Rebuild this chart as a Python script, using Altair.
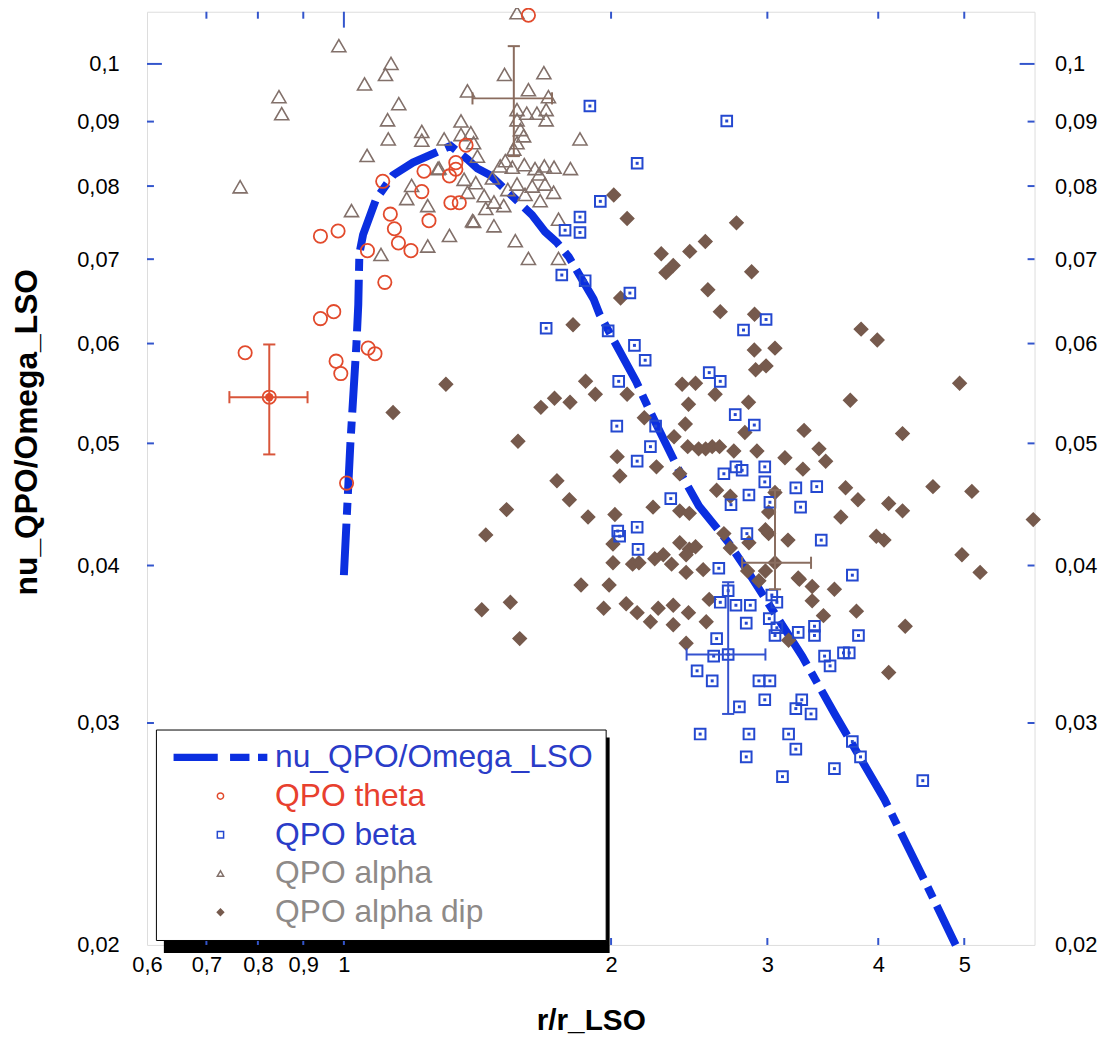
import altair as alt
import pandas as pd

FONT = "Liberation Sans"
FRAME = "#3355cc"
LINE_BLUE = "#0b2fe0"
SQ_BLUE = "#2448d0"
RED = "#e24a2c"
TRI_GRAY = "#82706a"
DIP_BROWN = "#765a4d"

# ---------------- data ----------------
series_names = ["nu_QPO/Omega_LSO", "QPO theta", "QPO beta", "QPO alpha", "QPO alpha dip"]

curve_pts = [
    (1.000, 0.0393), (1.017, 0.0500), (1.033, 0.0599), (1.038, 0.0644), (1.041, 0.0707),
    (1.051, 0.0732), (1.087, 0.0781), (1.136, 0.0816), (1.196, 0.0835), (1.319, 0.0861),
    (1.378, 0.0840), (1.414, 0.0826), (1.462, 0.0816), (1.629, 0.0759), (1.685, 0.0736),
    (1.737, 0.0722), (1.792, 0.0703), (1.911, 0.0651), (1.941, 0.0633), (2.134, 0.0560),
    (2.180, 0.0542), (2.248, 0.0518), (2.385, 0.0476), (2.512, 0.0446), (2.713, 0.0417),
    (2.856, 0.0395), (3.283, 0.0339), (3.573, 0.0305), (4.064, 0.0261), (4.510, 0.0225),
    (4.890, 0.0200),
]

theta_pts = [
    (1.106, 0.0807), (0.941, 0.0730), (0.985, 0.0737), (1.128, 0.0760), (1.140, 0.0740),
    (1.152, 0.0721), (1.190, 0.0711), (1.063, 0.0711), (1.112, 0.0671), (1.247, 0.0751),
    (1.224, 0.0792), (1.231, 0.0822), (1.614, 0.1093), (1.373, 0.0862), (1.337, 0.0835),
    (1.337, 0.0825), (1.315, 0.0815), (1.320, 0.0776), (1.349, 0.0776), (0.941, 0.0628),
    (0.974, 0.0636), (1.065, 0.0595), (1.084, 0.0589), (0.980, 0.0581), (0.992, 0.0568),
    (0.774, 0.0590), (1.007, 0.0465), (0.824, 0.0544),
]

alpha_pts = [
    (0.987, 0.1034), (1.130, 0.1001), (1.114, 0.0981), (1.055, 0.0964), (0.845, 0.0942),
    (0.851, 0.0913), (1.153, 0.0930), (1.120, 0.0903), (1.122, 0.0872), (1.224, 0.0884),
    (1.224, 0.0870), (1.062, 0.0846), (0.764, 0.0799), (1.020, 0.0765), (1.192, 0.0801),
    (1.177, 0.0782), (1.243, 0.0772), (1.243, 0.0717), (1.101, 0.0706), (1.280, 0.0827),
    (1.567, 0.1098), (1.517, 0.0981), (1.680, 0.0984), (1.378, 0.0952), (1.614, 0.0954),
    (1.355, 0.0901), (1.845, 0.0872), (1.297, 0.0872), (1.400, 0.0866), (1.414, 0.0845),
    (1.315, 0.0731), (1.400, 0.0750), (1.560, 0.0724), (1.614, 0.0701), (1.745, 0.0753),
    (1.745, 0.0701), (1.500, 0.0830), (1.548, 0.0828), (1.597, 0.0832), (1.642, 0.0826),
    (1.682, 0.0830), (1.725, 0.0828), (1.800, 0.0826), (1.567, 0.0920), (1.607, 0.0914),
    (1.567, 0.0903), (1.650, 0.0914), (1.690, 0.0920), (1.690, 0.0903), (1.581, 0.0887),
    (1.594, 0.0877), (1.567, 0.0866), (1.554, 0.0856), (1.700, 0.0942), (1.355, 0.0879),
    (1.390, 0.0882), (1.276, 0.0826), (1.366, 0.0810), (1.408, 0.0805), (1.378, 0.0791),
    (1.439, 0.0786), (1.476, 0.0777), (1.514, 0.0772), (1.445, 0.0768), (1.396, 0.0751),
    (1.476, 0.0744), (1.723, 0.0791), (1.567, 0.0803), (1.630, 0.0800), (1.685, 0.0803),
    (1.664, 0.0779), (1.470, 0.0812), (1.530, 0.0795), (1.600, 0.0788), (1.660, 0.0818),
    (1.520, 0.0838),
]

beta_pts = [
    (1.893, 0.0926), (2.700, 0.0901), (2.140, 0.0834), (1.945, 0.0778), (1.845, 0.0756),
    (1.775, 0.0738), (1.845, 0.0735), (1.760, 0.0680), (1.870, 0.0673), (2.100, 0.0658),
    (2.990, 0.0627), (2.820, 0.0615), (1.985, 0.0614), (2.125, 0.0598), (2.185, 0.0582),
    (2.580, 0.0569), (2.655, 0.0560), (2.040, 0.0560), (2.760, 0.0527), (2.900, 0.0517),
    (2.030, 0.0516), (2.245, 0.0516), (2.215, 0.0497), (2.140, 0.0484), (2.765, 0.0479),
    (2.680, 0.0473), (2.810, 0.0476), (2.980, 0.0479), (2.980, 0.0466), (3.230, 0.0461),
    (3.410, 0.0462), (3.270, 0.0445), (2.860, 0.0455), (3.020, 0.0449), (2.730, 0.0447),
    (2.335, 0.0452), (3.450, 0.0419), (2.845, 0.0424), (2.035, 0.0426), (2.140, 0.0429),
    (2.045, 0.0422), (2.145, 0.0412), (2.645, 0.0398), (3.740, 0.0393), (2.710, 0.0382),
    (2.655, 0.0374), (2.765, 0.0372), (2.870, 0.0372), (3.035, 0.0379), (3.075, 0.0374),
    (2.840, 0.0360), (3.015, 0.0363), (3.075, 0.0357), (3.060, 0.0352), (3.250, 0.0354),
    (3.390, 0.0358), (3.390, 0.0352), (3.800, 0.0352), (2.630, 0.0350), (2.610, 0.0339),
    (3.480, 0.0339), (3.655, 0.0341), (3.710, 0.0341), (3.530, 0.0333), (2.500, 0.0330),
    (2.600, 0.0324), (2.935, 0.0324), (3.020, 0.0324), (2.980, 0.0313), (2.790, 0.0309),
    (3.280, 0.0313), (3.230, 0.0308), (3.360, 0.0305), (2.520, 0.0294), (2.860, 0.0294),
    (3.170, 0.0294), (3.230, 0.0286), (2.840, 0.0282), (3.740, 0.0290), (3.820, 0.0282),
    (3.570, 0.0276), (3.120, 0.0272), (4.490, 0.0270), (1.690, 0.0617), (2.710, 0.0340),
]

dip_pts = [
    (2.014, 0.0787), (2.085, 0.0754), (2.769, 0.0748), (2.554, 0.0723), (2.278, 0.0707),
    (2.453, 0.0710), (2.350, 0.0692), (2.306, 0.0683), (2.880, 0.0684), (2.571, 0.0662),
    (2.655, 0.0636), (2.902, 0.0633), (2.050, 0.0652), (1.812, 0.0621), (3.826, 0.0616),
    (3.990, 0.0604), (4.940, 0.0558), (3.720, 0.0541), (3.300, 0.0512), (4.260, 0.0509),
    (3.430, 0.0495), (3.140, 0.0487), (3.490, 0.0484), (3.290, 0.0477), (4.610, 0.0462),
    (5.100, 0.0458), (3.675, 0.0461), (3.795, 0.0451), (4.110, 0.0448), (4.260, 0.0442),
    (3.630, 0.0437), (5.980, 0.0435), (3.165, 0.0419), (3.980, 0.0422), (4.060, 0.0419),
    (4.970, 0.0408), (5.210, 0.0395), (3.250, 0.0391), (2.985, 0.0396), (3.060, 0.0595),
    (2.990, 0.0576), (2.900, 0.0593), (2.910, 0.0572), (2.920, 0.0493), (3.060, 0.0457),
    (3.010, 0.0441), (3.010, 0.0424), (2.405, 0.0557), (2.490, 0.0558), (2.620, 0.0547),
    (2.857, 0.0539), (1.872, 0.0560), (1.920, 0.0547), (1.798, 0.0539), (2.445, 0.0537),
    (2.085, 0.0547), (2.180, 0.0524), (2.425, 0.0518), (2.830, 0.0510), (2.556, 0.0495),
    (2.600, 0.0497), (2.650, 0.0497), (2.510, 0.0495), (2.750, 0.0493), (2.355, 0.0506),
    (2.440, 0.0497), (2.032, 0.0488), (2.046, 0.0471), (2.250, 0.0479), (2.390, 0.0473),
    (2.630, 0.0459), (2.725, 0.0454), (1.795, 0.0451), (2.230, 0.0445), (2.390, 0.0442),
    (2.450, 0.0440), (1.884, 0.0437), (2.020, 0.0439), (1.738, 0.0467), (2.680, 0.0424),
    (2.860, 0.0417), (2.985, 0.0427), (2.010, 0.0416), (2.390, 0.0417), (2.450, 0.0412),
    (2.490, 0.0414), (2.430, 0.0408), (2.290, 0.0408), (2.340, 0.0401), (2.430, 0.0395),
    (2.010, 0.0402), (2.115, 0.0401), (2.540, 0.0397), (2.725, 0.0413), (1.727, 0.0543),
    (1.667, 0.0534), (1.571, 0.0502), (1.525, 0.0443), (1.445, 0.0423), (1.850, 0.0386),
    (1.990, 0.0386), (1.540, 0.0374), (1.430, 0.0369), (1.962, 0.0370), (2.080, 0.0373),
    (2.140, 0.0367), (2.260, 0.0370), (2.350, 0.0372), (2.445, 0.0367), (2.215, 0.0361),
    (2.350, 0.0359), (2.560, 0.0361), (1.578, 0.0350), (2.430, 0.0347), (2.580, 0.0376),
    (2.935, 0.0389), (3.260, 0.0390), (3.370, 0.0385), (3.570, 0.0383), (3.780, 0.0368),
    (4.290, 0.0358), (3.470, 0.0365), (3.370, 0.0375), (2.850, 0.0396), (2.240, 0.0405),
    (1.303, 0.0557), (1.136, 0.0529), (4.110, 0.0329), (3.170, 0.0349), (2.150, 0.0402),
    (3.060, 0.0402),
]

# error bars: series, centre x, centre y, x low, x high, y low, y high
eb_series = ["QPO theta", "QPO alpha", "QPO alpha dip", "QPO beta"]
eb_x = [0.824, 1.554, 3.060, 2.710]
eb_y = [0.0544, 0.0939, 0.0402, 0.0340]
eb_xlo = [0.743, 1.396, 2.810, 2.433]
eb_xhi = [0.910, 1.716, 3.360, 2.985]
eb_ylo = [0.0490, 0.0845, 0.0383, 0.0305]
eb_yhi = [0.0599, 0.1033, 0.0459, 0.0388]

x_tick_labels = [0.6, 0.7, 0.8, 0.9, 1, 2, 3, 4, 5]
x_minor = [0.7, 0.8, 0.9, 2, 3, 4, 5]
x_major = [1]
y_tick_labels = [0.02, 0.03, 0.04, 0.05, 0.06, 0.07, 0.08, 0.09, 0.1]
y_minor = [0.03, 0.04, 0.05, 0.06, 0.07, 0.08, 0.09]
y_major = [0.1]

# ---------------- frames ----------------
curve_df = pd.DataFrame(curve_pts, columns=["x", "y"])
curve_df["i"] = range(len(curve_df))


def series_frame(name, pts):
    d = pd.DataFrame(pts, columns=["x", "y"])
    d["series"] = name
    return d


dip_df = series_frame("QPO alpha dip", dip_pts)
alpha_df = series_frame("QPO alpha", alpha_pts)
beta_df = series_frame("QPO beta", beta_pts)
theta_df = series_frame("QPO theta", theta_pts)

eb_df = pd.DataFrame({"series": eb_series, "x": eb_x, "y": eb_y,
                      "xlo": eb_xlo, "xhi": eb_xhi, "ylo": eb_ylo, "yhi": eb_yhi})
cap_v = pd.concat([eb_df.assign(cx=eb_df["xlo"], cy=eb_df["y"]),
                   eb_df.assign(cx=eb_df["xhi"], cy=eb_df["y"])], ignore_index=True)
cap_h = pd.concat([eb_df.assign(cx=eb_df["x"], cy=eb_df["ylo"]),
                   eb_df.assign(cx=eb_df["x"], cy=eb_df["yhi"])], ignore_index=True)
theta_centre = eb_df[eb_df["series"] == "QPO theta"]

# ---------------- scales / axes ----------------
xs = alt.Scale(type="log", domain=[0.6, 6.0], nice=False)
ys = alt.Scale(type="log", domain=[0.02, 0.11], nice=False)
label_expr = "replace(toString(datum.value), '.', ',')"

bottom_axis = alt.Axis(values=x_tick_labels, labelExpr=label_expr, ticks=False, domain=False,
                       grid=False, labelFont=FONT, labelFontSize=22, labelColor="black",
                       labelPadding=10, labelFlush=False, title="r/r_LSO", titleFont=FONT,
                       titleFontSize=30, titleFontWeight="bold", titleColor="black",
                       titleY=76, titleBaseline="middle")
left_axis = alt.Axis(values=y_tick_labels, labelExpr=label_expr, ticks=False, domain=False,
                     grid=False, labelFont=FONT, labelFontSize=22, labelColor="black",
                     labelPadding=28, labelFlush=False, title="nu_QPO/Omega_LSO", titleFont=FONT,
                     titleFontSize=32, titleFontWeight="bold", titleColor="black",
                     titleX=-121, titleY=423, titleAngle=270, titleAlign="center",
                     titleBaseline="middle")
right_axis = alt.Axis(orient="right", values=y_tick_labels, labelExpr=label_expr, ticks=False,
                      domain=False, grid=False, labelFont=FONT, labelFontSize=22,
                      labelColor="black", labelPadding=20, labelFlush=False, title=None)

line_path = "M-14.7,-0.9H-1.1V0.9H-14.7Z M3.3,-0.9H9V0.9H3.3Z M12.2,-0.9H14.7V0.9H12.2Z"
label_color = ("datum.label == 'QPO theta' ? '#e8402e' : "
               "(indexof(datum.label, 'alpha') >= 0 ? '#8e8a88' : '#2a3cc8')")
legend = alt.Legend(orient="none", legendX=9, legendY=723, title=None, labelFont=FONT,
                    labelFontSize=32, labelLimit=800, labelOffset=39, symbolOffset=37,
                    symbolSize=40, symbolStrokeWidth=1.5, rowPadding=7, padding=12,
                    strokeColor="black", fillColor="white",
                    labelColor=alt.ExprRef(expr=label_color))

color_scale = alt.Scale(domain=series_names,
                        range=[LINE_BLUE, RED, SQ_BLUE, TRI_GRAY, DIP_BROWN])
shape_scale = alt.Scale(domain=series_names,
                        range=[line_path, "circle", "square", "triangle-up", "diamond"])
fill_scale = alt.Scale(domain=series_names,
                       range=[LINE_BLUE, "transparent", "transparent", "transparent", DIP_BROWN])
eb_scale = alt.Scale(domain=eb_series, range=["#d8553a", "#8a6c5e", "#8a6e60", "#3552cf"])


def X(field, axis=None):
    return alt.X(f"{field}:Q", scale=xs, axis=axis)


def Y(field, axis=None):
    return alt.Y(f"{field}:Q", scale=ys, axis=axis)


def series_layer(df, size, stroke_width):
    return alt.Chart(df).mark_point(filled=False, size=size, strokeWidth=stroke_width,
                                    opacity=1).encode(
        x=X("x"), y=Y("y"),
        color=alt.Color("series:N", scale=color_scale, legend=legend),
        shape=alt.Shape("series:N", scale=shape_scale, legend=legend),
        fill=alt.Fill("series:N", scale=fill_scale, legend=legend),
    )


# ---------------- layers ----------------
shadow = alt.Chart(pd.DataFrame({"k": [0]})).mark_rect(color="black").encode(
    x=alt.value(17), x2=alt.value(466), y=alt.value(731), y2=alt.value(948))

line = alt.Chart(curve_df).mark_line(color=LINE_BLUE, strokeWidth=8, strokeDash=[52, 9, 12, 9],
                                     strokeCap="butt").encode(
    x=X("x", bottom_axis), y=Y("y", left_axis), order="i:Q")

dip_layer = series_layer(dip_df, 180, 1.5)
alpha_layer = series_layer(alpha_df, 200, 1.6)
beta_layer = series_layer(beta_df, 115, 2.0)
theta_layer = series_layer(theta_df, 180, 1.8)

beta_dots = alt.Chart(beta_df).mark_square(size=9, color=SQ_BLUE, opacity=1).encode(
    x=X("x"), y=Y("y"))

eb_h = alt.Chart(eb_df).mark_rule(strokeWidth=2).encode(
    x=X("xlo"), x2="xhi:Q", y=Y("y"),
    stroke=alt.Stroke("series:N", scale=eb_scale, legend=None))
eb_v = alt.Chart(eb_df).mark_rule(strokeWidth=2).encode(
    x=X("x"), y=Y("ylo"), y2="yhi:Q",
    stroke=alt.Stroke("series:N", scale=eb_scale, legend=None))
caps_v = alt.Chart(cap_v).mark_point(shape="M0,-1V1", size=150, strokeWidth=2, opacity=1).encode(
    x=X("cx"), y=Y("cy"),
    stroke=alt.Stroke("series:N", scale=eb_scale, legend=None))
caps_h = alt.Chart(cap_h).mark_point(shape="M-1,0H1", size=150, strokeWidth=2, opacity=1).encode(
    x=X("cx"), y=Y("cy"),
    stroke=alt.Stroke("series:N", scale=eb_scale, legend=None))
centre = alt.Chart(theta_centre).mark_circle(size=70, color=RED, opacity=1).encode(
    x=X("x"), y=Y("y"))

tick_style = dict(color=FRAME, strokeWidth=2)
top_minor = alt.Chart(pd.DataFrame({"v": x_minor})).mark_rule(**tick_style).encode(
    x=X("v"), y=alt.value(0), y2=alt.value(7))
top_major = alt.Chart(pd.DataFrame({"v": x_major})).mark_rule(**tick_style).encode(
    x=X("v"), y=alt.value(0), y2=alt.value(16))
bot_minor = alt.Chart(pd.DataFrame({"v": x_minor})).mark_rule(**tick_style).encode(
    x=X("v"), y=alt.value(933), y2=alt.value(940))
bot_major = alt.Chart(pd.DataFrame({"v": x_major})).mark_rule(**tick_style).encode(
    x=X("v"), y=alt.value(924), y2=alt.value(940))
left_minor = alt.Chart(pd.DataFrame({"v": y_minor})).mark_rule(**tick_style).encode(
    y=Y("v"), x=alt.value(0), x2=alt.value(7))
left_major = alt.Chart(pd.DataFrame({"v": y_major})).mark_rule(**tick_style).encode(
    y=Y("v"), x=alt.value(0), x2=alt.value(15))
right_minor = alt.Chart(pd.DataFrame({"v": y_minor})).mark_rule(**tick_style).encode(
    y=Y("v", right_axis), x=alt.value(887), x2=alt.value(894))
right_major = alt.Chart(pd.DataFrame({"v": y_major})).mark_rule(**tick_style).encode(
    y=Y("v"), x=alt.value(879), x2=alt.value(894))

chart = alt.layer(
    shadow, line, dip_layer, alpha_layer, beta_layer, beta_dots, theta_layer,
    eb_h, eb_v, caps_v, caps_h, centre,
    top_minor, top_major, bot_minor, bot_major, left_minor, left_major, right_minor, right_major,
).resolve_axis(x="independent", y="independent").properties(
    width=894, height=940,
    autosize=alt.AutoSizeParams(type="none"),
    padding={"left": 140, "top": 0, "right": 74, "bottom": 97},
).configure_view(stroke=FRAME, strokeWidth=2).configure(font=FONT, background="white")

chart.save("out.html", embed_options={"renderer": "svg", "actions": False})
